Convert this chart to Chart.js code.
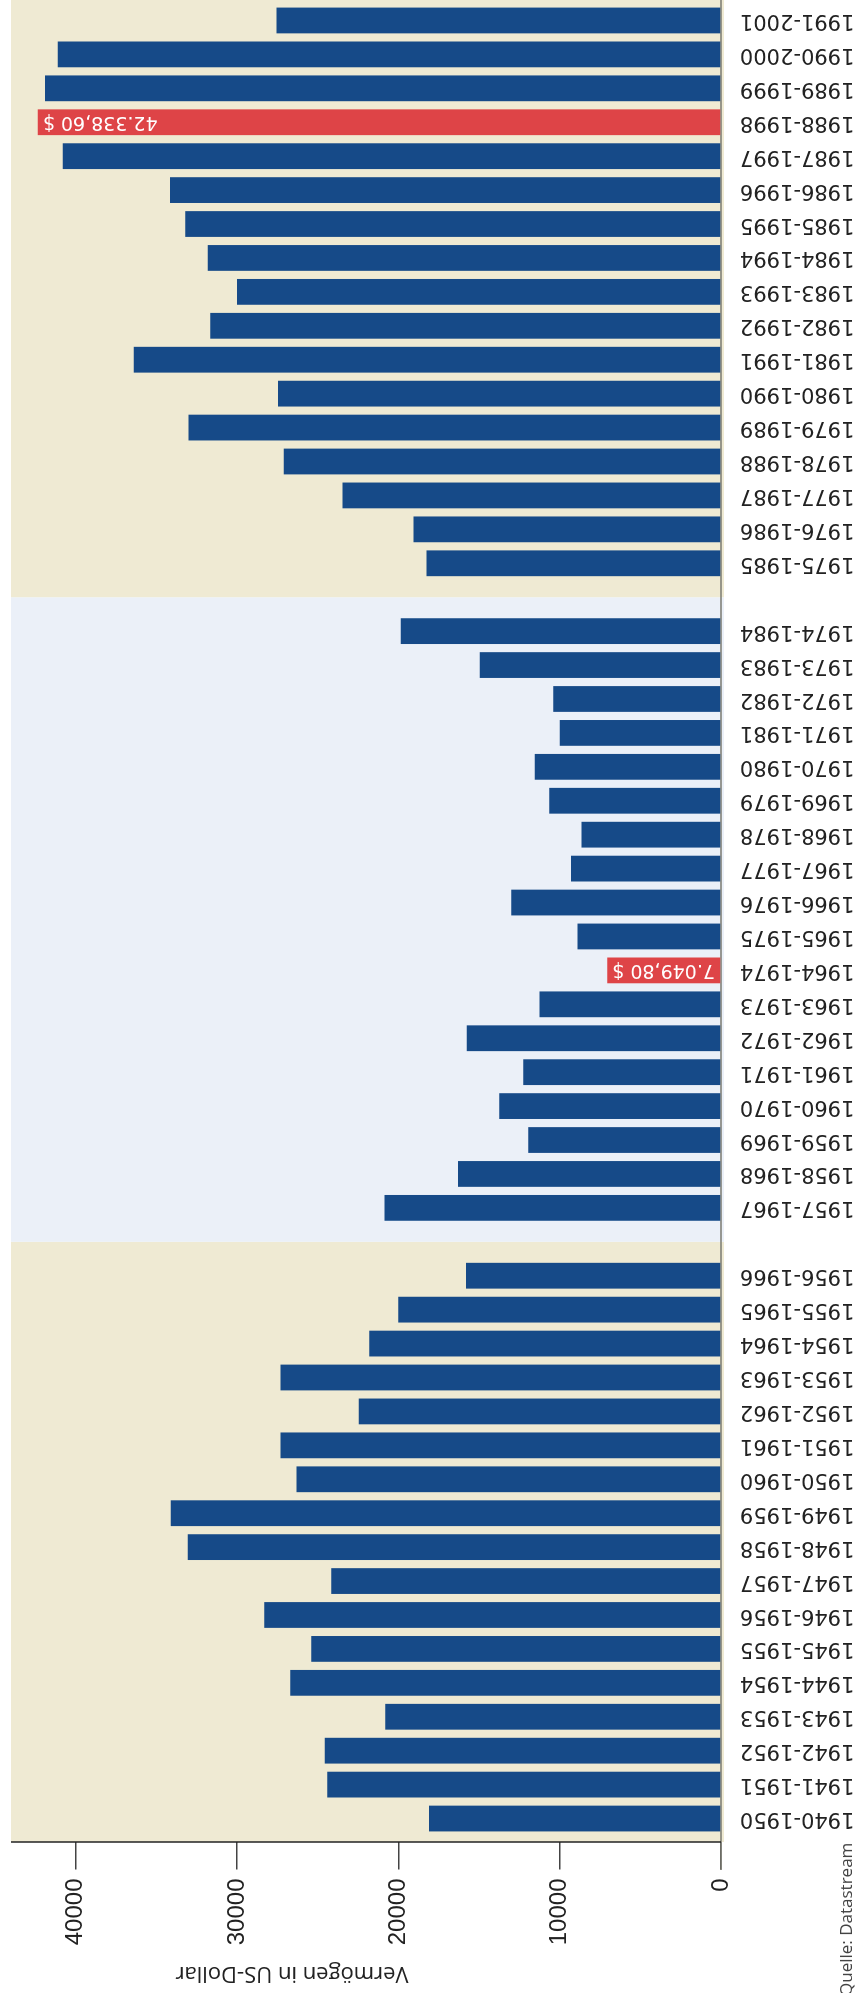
<!DOCTYPE html>
<html lang="de">
<head>
<meta charset="utf-8">
<title>Vermögen in US-Dollar</title>
<script src="https://cdn.jsdelivr.net/npm/chart.js@4/dist/chart.umd.min.js"></script>
<style>
  html, body { margin: 0; padding: 0; background: #fff; overflow: hidden; }
  body { width: 859px; height: 1993px; position: relative; }
  /* the chart is drawn landscape and turned a quarter to the left */
  #wrap {
    position: absolute; left: 0; top: 0;
    width: 1993px; height: 859px;
    transform-origin: 0 0;
    transform: translate(0, 1993px) rotate(-90deg);
  }
</style>
</head>
<body>
<div id="wrap"><canvas id="chart" width="1993" height="859"></canvas></div>
<script>
// '' = gap between the three periods
const categories = [
    '1940-1950', '1941-1951', '1942-1952', '1943-1953', '1944-1954', '1945-1955',
    '1946-1956', '1947-1957', '1948-1958', '1949-1959', '1950-1960', '1951-1961',
    '1952-1962', '1953-1963', '1954-1964', '1955-1965', '1956-1966',
    '',
    '1957-1967', '1958-1968', '1959-1969', '1960-1970', '1961-1971', '1962-1972',
    '1963-1973', '1964-1974', '1965-1975', '1966-1976', '1967-1977', '1968-1978',
    '1969-1979', '1970-1980', '1971-1981', '1972-1982', '1973-1983', '1974-1984',
    '',
    '1975-1985', '1976-1986', '1977-1987', '1978-1988', '1979-1989', '1980-1990',
    '1981-1991', '1982-1992', '1983-1993', '1984-1994', '1985-1995', '1986-1996',
    '1987-1997', '1988-1998', '1989-1999', '1990-2000', '1991-2001',
];

const values = [
    18100, 24400, 24550, 20800, 26700, 25400,
    28300, 24150, 33050, 34100, 26300, 27300,
    22450, 27300, 21800, 20000, 15800,
    null,
    20850, 16300, 11950, 13750, 12250, 15750,
    11250, 7049.8, 8900, 13000, 9300, 8650,
    10650, 11550, 10000, 10400, 14950, 19850,
    null,
    18250, 19050, 23450, 27100, 33000, 27450,
    36400, 31650, 30000, 31800, 33200, 34150,
    40800, 42338.6, 41900, 41100, 27550,
];

const highlighted = ['1964-1974', '1988-1998'];
const valueTicks = [0, 10000, 20000, 30000, 40000];
const axisTitle = 'Vermögen in US-Dollar';
const source = 'Quelle: Datastream';

const BAR = '#164a88';
const RED = '#de4447';
const BEIGE = '#efead3';
const PALE_BLUE = '#ebf0f8';

function fmtDollar(v) {
    const [int, dec] = v.toFixed(2).split('.');
    return int.replace(/\B(?=(\d{3})+(?!\d))/g, '.') + ',' + dec + ' $';
}

const barColors = categories.map(c => (highlighted.includes(c) ? RED : BAR));

const backdrop = {
    id: 'backdrop',
    beforeDatasetsDraw(chart) {
        const { ctx, chartArea: area, scales: { x, y } } = chart;
        const axisX = area.left - 6.5;
        const zero = y.getPixelForValue(0);
        const gaps = categories.map((c, i) => (c === '' ? i : -1)).filter(i => i >= 0);
        const edges = [axisX, ...gaps.map(i => x.getPixelForValue(i)), chart.width];
        const fills = [BEIGE, PALE_BLUE, BEIGE];

        ctx.save();
        for (let i = 0; i < fills.length; i++) {
            ctx.fillStyle = fills[i];
            ctx.fillRect(edges[i], area.top, edges[i + 1] - edges[i], zero + 3 - area.top);
        }
        // category axis
        ctx.strokeStyle = '#7a7a70';
        ctx.lineWidth = 1.5;
        ctx.beginPath();
        ctx.moveTo(axisX - 28, zero);
        ctx.lineTo(chart.width, zero);
        ctx.stroke();
        // value axis
        ctx.strokeStyle = '#222';
        ctx.beginPath();
        ctx.moveTo(axisX, area.top);
        ctx.lineTo(axisX, zero);
        ctx.stroke();
        ctx.restore();
    },
    afterDatasetsDraw(chart) {
        const { ctx } = chart;
        const meta = chart.getDatasetMeta(0);
        ctx.save();
        ctx.fillStyle = '#fff';
        ctx.font = '19px "DejaVu Sans"';
        ctx.textAlign = 'right';
        ctx.textBaseline = 'middle';
        highlighted.forEach(label => {
            const i = categories.indexOf(label);
            const bar = meta.data[i];
            ctx.save();
            ctx.translate(bar.x, bar.y + 5);
            ctx.rotate(-Math.PI / 2);
            ctx.fillText(fmtDollar(values[i]), 0, 0);
            ctx.restore();
        });
        ctx.restore();
    },
    afterDraw(chart) {
        const { ctx } = chart;
        ctx.save();
        ctx.fillStyle = '#222';
        ctx.font = '22px "Open Sans"';
        ctx.textAlign = 'center';
        ctx.textBaseline = 'alphabetic';
        ctx.translate(26, 292);
        ctx.rotate(-Math.PI / 2);
        ctx.fillText(axisTitle, 0, 0);
        ctx.restore();

        ctx.save();
        ctx.fillStyle = '#444';
        ctx.font = '17px "Open Sans"';
        ctx.textAlign = 'left';
        ctx.textBaseline = 'alphabetic';
        ctx.fillText(source, -3, 852);
        ctx.restore();
    },
};

new Chart(document.getElementById('chart'), {
    type: 'bar',
    data: {
        labels: categories,
        datasets: [{
            data: values,
            backgroundColor: barColors,
            borderWidth: 0,
            barPercentage: 0.76,
            categoryPercentage: 1,
        }],
    },
    options: {
        responsive: false,
        animation: false,
        devicePixelRatio: 1,
        layout: { padding: { top: 11, right: 3.5, left: 0, bottom: 0 } },
        plugins: {
            legend: { display: false },
            tooltip: { enabled: false },
        },
        scales: {
            x: {
                offset: true,
                grid: { display: false, drawTicks: false },
                border: { display: false },
                ticks: {
                    autoSkip: false,
                    minRotation: 90,
                    maxRotation: 90,
                    padding: 19,
                    color: '#222',
                    font: { family: 'DejaVu Sans', size: 21 },
                },
                afterFit(scale) {
                    scale.height = 138;
                    scale.paddingLeft = 0;
                    scale.paddingRight = 0;
                },
            },
            y: {
                min: 0,
                max: 44000,
                afterBuildTicks(scale) {
                    scale.ticks = valueTicks.map(v => ({ value: v }));
                },
                ticks: {
                    padding: 9,
                    color: '#222',
                    font: { family: 'Liberation Sans', size: 24 },
                    callback: v => String(v),
                },
                grid: {
                    drawOnChartArea: false,
                    drawTicks: true,
                    tickLength: 34,
                    color: '#444',
                    lineWidth: 1.5,
                },
                border: { display: false },
                afterFit(scale) {
                    scale.width = 157.5;
                    scale.paddingTop = 0;
                    scale.paddingBottom = 0;
                },
            },
        },
    },
    plugins: [backdrop],
});
</script>
</body>
</html>
